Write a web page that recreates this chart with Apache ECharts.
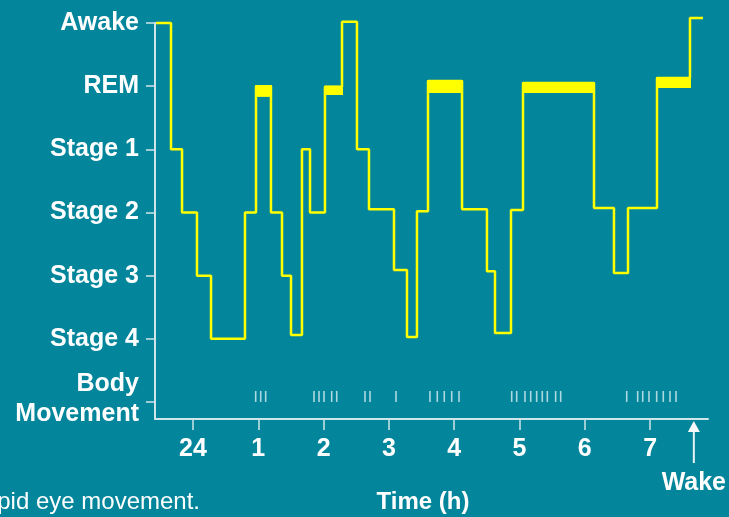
<!DOCTYPE html>
<html>
<head>
<meta charset="utf-8">
<script src="https://cdn.jsdelivr.net/npm/echarts@6/dist/echarts.min.js"></script>
<style>
html,body{margin:0;padding:0;background:#03869b;}
#c{width:729px;height:517px;}
</style>
</head>
<body>
<div id="c"></div>
<script>
// ---- data ----
const stageNames = ['Body\nMovement', 'Stage 4', 'Stage 3', 'Stage 2', 'Stage 1', 'REM', 'Awake'];
const stageLevels = [0, 1, 2, 3, 4, 5, 6];
const hourTicks = [0, 1, 2, 3, 4, 5, 6, 7];
const hourLabels = ['24', '1', '2', '3', '4', '5', '6', '7'];

// hypnogram: time (h after midnight) at which each stage starts, and its level
const stepHours = [-0.567, -0.337, -0.168, 0.061, 0.276, 0.796, 0.965, 1.194, 1.363, 1.501,
                   1.669, 1.792, 2.021, 2.282, 2.511, 2.695, 3.078, 3.277, 3.430, 3.599,
                   4.120, 4.502, 4.625, 4.870, 5.054, 6.141, 6.447, 6.662, 7.106, 7.611, 7.810];
const stepLevels = [6.0, 4.0, 3.0, 2.0, 1.0, 3.0, 5.0, 3.0, 2.0, 1.06,
                    4.0, 3.0, 4.99, 6.02, 4.0, 3.05, 2.09, 1.03, 3.02, 5.08,
                    3.05, 2.07, 1.09, 3.04, 5.05, 3.07, 2.04, 3.07, 5.13, 6.08, 6.08];

// REM periods drawn as thick bands
const remStart = [0.965, 2.021, 3.599, 5.054, 7.106];
const remEnd = [1.194, 2.282, 4.120, 6.141, 7.611];
const remTop = [5.0, 4.99, 5.08, 5.05, 5.13];
const remBottom = [4.83, 4.86, 4.89, 4.89, 4.97];

// body movements (h)
const movementHours = [0.960, 1.037, 1.113,
  1.853, 1.930, 2.006, 2.124, 2.201,
  2.634, 2.711,
  3.109,
  3.629, 3.741, 3.848, 3.962, 4.074,
  4.881, 4.957, 5.084, 5.172, 5.263, 5.349, 5.426, 5.554, 5.631,
  6.642, 6.810, 6.887, 6.983, 7.101, 7.202, 7.305, 7.397];
const movementLevel = 0.087;

const wakeHour = 7.67;

// ---- chart ----
const axisCol = '#cfe5ea';
const font = '"Liberation Sans", Arial, sans-serif';
const chart = echarts.init(document.getElementById('c'), null, {renderer: 'canvas'});

const stepData = stepHours.map((h, i) => [h, stepLevels[i]]);
const remData = remStart.map((s, i) => [s, remEnd[i], remTop[i], remBottom[i]]);
const moveData = movementHours.map(h => [h, movementLevel]);

chart.setOption({
  backgroundColor: '#03869b',
  animation: false,
  grid: {left: 155, right: 21, top: 23, bottom: 98, containLabel: false},
  xAxis: {
    type: 'value', min: -0.582, max: 7.887,
    splitLine: {show: false},
    axisLine: {show: true, onZero: false, lineStyle: {color: axisCol, width: 2}},
    axisTick: {show: true, customValues: hourTicks, length: 11, lineStyle: {color: axisCol, width: 1.5}},
    axisLabel: {
      customValues: hourTicks, margin: 18,
      color: '#ffffff', fontFamily: font, fontWeight: 'bold', fontSize: 25,
      formatter: v => hourLabels[hourTicks.indexOf(Math.round(v))]
    }
  },
  yAxis: {
    type: 'value', min: -0.27, max: 6,
    splitLine: {show: false},
    axisLine: {show: true, onZero: false, lineStyle: {color: axisCol, width: 2}},
    axisTick: {show: true, customValues: stageLevels, length: 9, lineStyle: {color: axisCol, width: 1.5}},
    axisLabel: {
      customValues: stageLevels, margin: 16,
      color: '#ffffff', fontFamily: font, fontWeight: 'bold', fontSize: 25, lineHeight: 30,
      formatter: v => {
        const name = stageNames[stageLevels.indexOf(Math.round(v))];
        if (name.indexOf('\n') < 0) return name;
        return name.split('\n').map(s => '{t|' + s + '}').join('\n') + '\n{s| }';
      },
      rich: {
        t: {color: '#ffffff', fontFamily: font, fontWeight: 'bold', fontSize: 25, lineHeight: 30, align: 'right'},
        s: {fontSize: 2, lineHeight: 6}
      }
    }
  },
  series: [
    {
      type: 'line', step: 'end', data: stepData, clip: false,
      symbol: 'none', lineStyle: {color: '#ffff00', width: 2.5}, z: 3
    },
    {
      type: 'custom', data: remData, clip: false, z: 4,
      encode: {x: [0, 1], y: [2, 3]},
      renderItem: (params, api) => {
        const p0 = api.coord([api.value(0), api.value(2)]);
        const p1 = api.coord([api.value(1), api.value(3)]);
        return {
          type: 'rect',
          shape: {x: p0[0] - 1, y: p0[1] - 1, width: p1[0] - p0[0] + 2, height: p1[1] - p0[1] + 1},
          style: {fill: '#ffff00'}
        };
      }
    },
    {
      type: 'scatter', data: moveData, symbol: 'rect', symbolSize: [1.6, 11],
      itemStyle: {color: 'rgba(240,248,250,0.9)'}, z: 2
    }
  ]
});

const wx = chart.convertToPixel({xAxisIndex: 0}, wakeHour);
chart.setOption({
  graphic: [
    {type: 'line', shape: {x1: wx, y1: 463, x2: wx, y2: 430}, style: {stroke: '#e6f2f5', lineWidth: 2}},
    {type: 'polygon', shape: {points: [[wx, 421], [wx - 6, 432], [wx + 6, 432]]}, style: {fill: '#f4fafb'}},
    {type: 'text', x: wx, y: 483, style: {text: 'Wake', fill: '#ffffff', font: 'bold 25px ' + font, align: 'center', verticalAlign: 'middle'}},
    {type: 'text', x: 423, y: 502, style: {text: 'Time (h)', fill: '#ffffff', font: 'bold 24px ' + font, align: 'center', verticalAlign: 'middle'}},
    {type: 'text', x: 200, y: 502, style: {text: 'REM = rapid eye movement.', fill: '#ffffff', font: '24px ' + font, align: 'right', verticalAlign: 'middle'}}
  ]
});
</script>
</body>
</html>
